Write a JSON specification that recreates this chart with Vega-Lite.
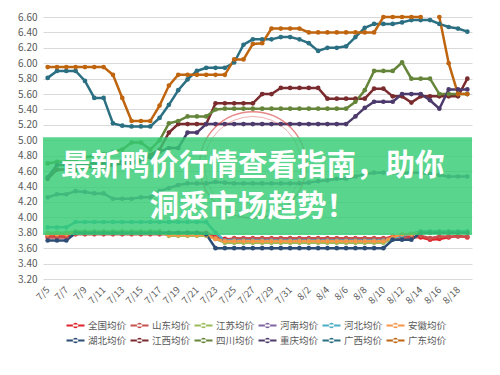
{
  "$schema": "https://vega.github.io/schema/vega-lite/v6.json",
  "width": 429,
  "height": 262,
  "autosize": {"type": "none"},
  "padding": {"left": 43, "top": 17, "right": 28, "bottom": 96},
  "background": "white",
  "config": {"view": {"stroke": null}, "font": "Noto Sans CJK SC"},
  "datasets": {
    "prices": [
      {"date":"7/5","region":"全国均价","price":3.76},{"date":"7/6","region":"全国均价","price":3.76},{"date":"7/7","region":"全国均价","price":3.76},{"date":"7/8","region":"全国均价","price":3.80},{"date":"7/9","region":"全国均价","price":3.80},{"date":"7/10","region":"全国均价","price":3.80},{"date":"7/11","region":"全国均价","price":3.80},{"date":"7/12","region":"全国均价","price":3.80},{"date":"7/13","region":"全国均价","price":3.80},{"date":"7/14","region":"全国均价","price":3.80},{"date":"7/15","region":"全国均价","price":3.80},{"date":"7/16","region":"全国均价","price":3.80},{"date":"7/17","region":"全国均价","price":3.80},{"date":"7/18","region":"全国均价","price":3.80},{"date":"7/19","region":"全国均价","price":3.80},{"date":"7/20","region":"全国均价","price":3.80},{"date":"7/21","region":"全国均价","price":3.80},{"date":"7/22","region":"全国均价","price":3.80},{"date":"7/23","region":"全国均价","price":3.74},{"date":"7/24","region":"全国均价","price":3.72},{"date":"7/25","region":"全国均价","price":3.72},{"date":"7/26","region":"全国均价","price":3.72},{"date":"7/27","region":"全国均价","price":3.72},{"date":"7/28","region":"全国均价","price":3.72},{"date":"7/29","region":"全国均价","price":3.72},{"date":"7/30","region":"全国均价","price":3.72},{"date":"7/31","region":"全国均价","price":3.72},{"date":"8/1","region":"全国均价","price":3.72},{"date":"8/2","region":"全国均价","price":3.72},{"date":"8/3","region":"全国均价","price":3.72},{"date":"8/4","region":"全国均价","price":3.72},{"date":"8/5","region":"全国均价","price":3.72},{"date":"8/6","region":"全国均价","price":3.72},{"date":"8/7","region":"全国均价","price":3.72},{"date":"8/8","region":"全国均价","price":3.72},{"date":"8/9","region":"全国均价","price":3.72},{"date":"8/10","region":"全国均价","price":3.72},{"date":"8/11","region":"全国均价","price":3.75},{"date":"8/12","region":"全国均价","price":3.75},{"date":"8/13","region":"全国均价","price":3.75},{"date":"8/14","region":"全国均价","price":3.74},{"date":"8/15","region":"全国均价","price":3.71},{"date":"8/16","region":"全国均价","price":3.72},{"date":"8/17","region":"全国均价","price":3.74},{"date":"8/18","region":"全国均价","price":3.76},{"date":"8/19","region":"全国均价","price":3.74},
      {"date":"7/5","region":"山东均价","price":3.74},{"date":"7/6","region":"山东均价","price":3.74},{"date":"7/7","region":"山东均价","price":3.74},{"date":"7/8","region":"山东均价","price":3.78},{"date":"7/9","region":"山东均价","price":3.78},{"date":"7/10","region":"山东均价","price":3.78},{"date":"7/11","region":"山东均价","price":3.78},{"date":"7/12","region":"山东均价","price":3.78},{"date":"7/13","region":"山东均价","price":3.78},{"date":"7/14","region":"山东均价","price":3.78},{"date":"7/15","region":"山东均价","price":3.78},{"date":"7/16","region":"山东均价","price":3.78},{"date":"7/17","region":"山东均价","price":3.78},{"date":"7/18","region":"山东均价","price":3.78},{"date":"7/19","region":"山东均价","price":3.78},{"date":"7/20","region":"山东均价","price":3.78},{"date":"7/21","region":"山东均价","price":3.78},{"date":"7/22","region":"山东均价","price":3.78},{"date":"7/23","region":"山东均价","price":3.73},{"date":"7/24","region":"山东均价","price":3.70},{"date":"7/25","region":"山东均价","price":3.73},{"date":"7/26","region":"山东均价","price":3.73},{"date":"7/27","region":"山东均价","price":3.73},{"date":"7/28","region":"山东均价","price":3.73},{"date":"7/29","region":"山东均价","price":3.73},{"date":"7/30","region":"山东均价","price":3.73},{"date":"7/31","region":"山东均价","price":3.73},{"date":"8/1","region":"山东均价","price":3.73},{"date":"8/2","region":"山东均价","price":3.73},{"date":"8/3","region":"山东均价","price":3.73},{"date":"8/4","region":"山东均价","price":3.73},{"date":"8/5","region":"山东均价","price":3.73},{"date":"8/6","region":"山东均价","price":3.73},{"date":"8/7","region":"山东均价","price":3.73},{"date":"8/8","region":"山东均价","price":3.73},{"date":"8/9","region":"山东均价","price":3.73},{"date":"8/10","region":"山东均价","price":3.73},{"date":"8/11","region":"山东均价","price":3.73},{"date":"8/12","region":"山东均价","price":3.73},{"date":"8/13","region":"山东均价","price":3.73},{"date":"8/14","region":"山东均价","price":3.76},{"date":"8/15","region":"山东均价","price":3.73},{"date":"8/16","region":"山东均价","price":3.75},{"date":"8/17","region":"山东均价","price":3.75},{"date":"8/18","region":"山东均价","price":3.75},{"date":"8/19","region":"山东均价","price":3.75},
      {"date":"7/5","region":"江苏均价","price":3.80},{"date":"7/6","region":"江苏均价","price":3.80},{"date":"7/7","region":"江苏均价","price":3.80},{"date":"7/8","region":"江苏均价","price":3.82},{"date":"7/9","region":"江苏均价","price":3.82},{"date":"7/10","region":"江苏均价","price":3.82},{"date":"7/11","region":"江苏均价","price":3.82},{"date":"7/12","region":"江苏均价","price":3.82},{"date":"7/13","region":"江苏均价","price":3.82},{"date":"7/14","region":"江苏均价","price":3.82},{"date":"7/15","region":"江苏均价","price":3.82},{"date":"7/16","region":"江苏均价","price":3.82},{"date":"7/17","region":"江苏均价","price":3.82},{"date":"7/18","region":"江苏均价","price":3.76},{"date":"7/19","region":"江苏均价","price":3.76},{"date":"7/20","region":"江苏均价","price":3.76},{"date":"7/21","region":"江苏均价","price":3.76},{"date":"7/22","region":"江苏均价","price":3.76},{"date":"7/23","region":"江苏均价","price":3.72},{"date":"7/24","region":"江苏均价","price":3.67},{"date":"7/25","region":"江苏均价","price":3.67},{"date":"7/26","region":"江苏均价","price":3.67},{"date":"7/27","region":"江苏均价","price":3.67},{"date":"7/28","region":"江苏均价","price":3.67},{"date":"7/29","region":"江苏均价","price":3.67},{"date":"7/30","region":"江苏均价","price":3.67},{"date":"7/31","region":"江苏均价","price":3.67},{"date":"8/1","region":"江苏均价","price":3.67},{"date":"8/2","region":"江苏均价","price":3.67},{"date":"8/3","region":"江苏均价","price":3.67},{"date":"8/4","region":"江苏均价","price":3.67},{"date":"8/5","region":"江苏均价","price":3.67},{"date":"8/6","region":"江苏均价","price":3.67},{"date":"8/7","region":"江苏均价","price":3.67},{"date":"8/8","region":"江苏均价","price":3.67},{"date":"8/9","region":"江苏均价","price":3.67},{"date":"8/10","region":"江苏均价","price":3.67},{"date":"8/11","region":"江苏均价","price":3.72},{"date":"8/12","region":"江苏均价","price":3.77},{"date":"8/13","region":"江苏均价","price":3.79},{"date":"8/14","region":"江苏均价","price":3.81},{"date":"8/15","region":"江苏均价","price":3.81},{"date":"8/16","region":"江苏均价","price":3.81},{"date":"8/17","region":"江苏均价","price":3.81},{"date":"8/18","region":"江苏均价","price":3.81},{"date":"8/19","region":"江苏均价","price":3.81},
      {"date":"7/5","region":"河南均价","price":4.26},{"date":"7/6","region":"河南均价","price":4.30},{"date":"7/7","region":"河南均价","price":4.30},{"date":"7/8","region":"河南均价","price":4.34},{"date":"7/9","region":"河南均价","price":4.33},{"date":"7/10","region":"河南均价","price":4.31},{"date":"7/11","region":"河南均价","price":4.31},{"date":"7/12","region":"河南均价","price":4.24},{"date":"7/13","region":"河南均价","price":4.24},{"date":"7/14","region":"河南均价","price":4.24},{"date":"7/15","region":"河南均价","price":4.26},{"date":"7/16","region":"河南均价","price":4.26},{"date":"7/17","region":"河南均价","price":4.34},{"date":"7/18","region":"河南均价","price":4.38},{"date":"7/19","region":"河南均价","price":4.42},{"date":"7/20","region":"河南均价","price":4.44},{"date":"7/21","region":"河南均价","price":4.44},{"date":"7/22","region":"河南均价","price":4.44},{"date":"7/23","region":"河南均价","price":4.46},{"date":"7/24","region":"河南均价","price":4.45},{"date":"7/25","region":"河南均价","price":4.44},{"date":"7/26","region":"河南均价","price":4.44},{"date":"7/27","region":"河南均价","price":4.44},{"date":"7/28","region":"河南均价","price":4.44},{"date":"7/29","region":"河南均价","price":4.44},{"date":"7/30","region":"河南均价","price":4.44},{"date":"7/31","region":"河南均价","price":4.44},{"date":"8/1","region":"河南均价","price":4.44},{"date":"8/2","region":"河南均价","price":4.45},{"date":"8/3","region":"河南均价","price":4.47},{"date":"8/4","region":"河南均价","price":4.48},{"date":"8/5","region":"河南均价","price":4.50},{"date":"8/6","region":"河南均价","price":4.50},{"date":"8/7","region":"河南均价","price":4.53},{"date":"8/8","region":"河南均价","price":4.56},{"date":"8/9","region":"河南均价","price":4.58},{"date":"8/10","region":"河南均价","price":4.58},{"date":"8/11","region":"河南均价","price":4.58},{"date":"8/12","region":"河南均价","price":4.58},{"date":"8/13","region":"河南均价","price":4.58},{"date":"8/14","region":"河南均价","price":4.58},{"date":"8/15","region":"河南均价","price":4.56},{"date":"8/16","region":"河南均价","price":4.55},{"date":"8/17","region":"河南均价","price":4.53},{"date":"8/18","region":"河南均价","price":4.53},{"date":"8/19","region":"河南均价","price":4.53},
      {"date":"7/5","region":"河北均价","price":3.87},{"date":"7/6","region":"河北均价","price":3.87},{"date":"7/7","region":"河北均价","price":3.87},{"date":"7/8","region":"河北均价","price":3.94},{"date":"7/9","region":"河北均价","price":3.94},{"date":"7/10","region":"河北均价","price":3.94},{"date":"7/11","region":"河北均价","price":3.94},{"date":"7/12","region":"河北均价","price":3.94},{"date":"7/13","region":"河北均价","price":3.94},{"date":"7/14","region":"河北均价","price":3.94},{"date":"7/15","region":"河北均价","price":3.94},{"date":"7/16","region":"河北均价","price":3.94},{"date":"7/17","region":"河北均价","price":3.94},{"date":"7/18","region":"河北均价","price":3.94},{"date":"7/19","region":"河北均价","price":3.94},{"date":"7/20","region":"河北均价","price":3.94},{"date":"7/21","region":"河北均价","price":3.94},{"date":"7/22","region":"河北均价","price":3.94},{"date":"7/23","region":"河北均价","price":3.80},{"date":"7/24","region":"河北均价","price":3.70},{"date":"7/25","region":"河北均价","price":3.70},{"date":"7/26","region":"河北均价","price":3.70},{"date":"7/27","region":"河北均价","price":3.70},{"date":"7/28","region":"河北均价","price":3.70},{"date":"7/29","region":"河北均价","price":3.70},{"date":"7/30","region":"河北均价","price":3.70},{"date":"7/31","region":"河北均价","price":3.70},{"date":"8/1","region":"河北均价","price":3.70},{"date":"8/2","region":"河北均价","price":3.70},{"date":"8/3","region":"河北均价","price":3.70},{"date":"8/4","region":"河北均价","price":3.70},{"date":"8/5","region":"河北均价","price":3.70},{"date":"8/6","region":"河北均价","price":3.70},{"date":"8/7","region":"河北均价","price":3.70},{"date":"8/8","region":"河北均价","price":3.70},{"date":"8/9","region":"河北均价","price":3.70},{"date":"8/10","region":"河北均价","price":3.70},{"date":"8/11","region":"河北均价","price":3.73},{"date":"8/12","region":"河北均价","price":3.76},{"date":"8/13","region":"河北均价","price":3.78},{"date":"8/14","region":"河北均价","price":3.82},{"date":"8/15","region":"河北均价","price":3.82},{"date":"8/16","region":"河北均价","price":3.82},{"date":"8/17","region":"河北均价","price":3.82},{"date":"8/18","region":"河北均价","price":3.82},{"date":"8/19","region":"河北均价","price":3.82},
      {"date":"7/5","region":"安徽均价","price":3.78},{"date":"7/6","region":"安徽均价","price":3.78},{"date":"7/7","region":"安徽均价","price":3.78},{"date":"7/8","region":"安徽均价","price":3.80},{"date":"7/9","region":"安徽均价","price":3.80},{"date":"7/10","region":"安徽均价","price":3.80},{"date":"7/11","region":"安徽均价","price":3.80},{"date":"7/12","region":"安徽均价","price":3.80},{"date":"7/13","region":"安徽均价","price":3.80},{"date":"7/14","region":"安徽均价","price":3.80},{"date":"7/15","region":"安徽均价","price":3.80},{"date":"7/16","region":"安徽均价","price":3.80},{"date":"7/17","region":"安徽均价","price":3.80},{"date":"7/18","region":"安徽均价","price":3.77},{"date":"7/19","region":"安徽均价","price":3.77},{"date":"7/20","region":"安徽均价","price":3.77},{"date":"7/21","region":"安徽均价","price":3.77},{"date":"7/22","region":"安徽均价","price":3.77},{"date":"7/23","region":"安徽均价","price":3.72},{"date":"7/24","region":"安徽均价","price":3.69},{"date":"7/25","region":"安徽均价","price":3.69},{"date":"7/26","region":"安徽均价","price":3.69},{"date":"7/27","region":"安徽均价","price":3.69},{"date":"7/28","region":"安徽均价","price":3.69},{"date":"7/29","region":"安徽均价","price":3.69},{"date":"7/30","region":"安徽均价","price":3.69},{"date":"7/31","region":"安徽均价","price":3.69},{"date":"8/1","region":"安徽均价","price":3.69},{"date":"8/2","region":"安徽均价","price":3.69},{"date":"8/3","region":"安徽均价","price":3.69},{"date":"8/4","region":"安徽均价","price":3.69},{"date":"8/5","region":"安徽均价","price":3.69},{"date":"8/6","region":"安徽均价","price":3.69},{"date":"8/7","region":"安徽均价","price":3.69},{"date":"8/8","region":"安徽均价","price":3.69},{"date":"8/9","region":"安徽均价","price":3.69},{"date":"8/10","region":"安徽均价","price":3.69},{"date":"8/11","region":"安徽均价","price":3.74},{"date":"8/12","region":"安徽均价","price":3.78},{"date":"8/13","region":"安徽均价","price":3.78},{"date":"8/14","region":"安徽均价","price":3.80},{"date":"8/15","region":"安徽均价","price":3.80},{"date":"8/16","region":"安徽均价","price":3.80},{"date":"8/17","region":"安徽均价","price":3.80},{"date":"8/18","region":"安徽均价","price":3.80},{"date":"8/19","region":"安徽均价","price":3.80},
      {"date":"7/5","region":"湖北均价","price":3.70},{"date":"7/6","region":"湖北均价","price":3.70},{"date":"7/7","region":"湖北均价","price":3.70},{"date":"7/8","region":"湖北均价","price":3.80},{"date":"7/9","region":"湖北均价","price":3.80},{"date":"7/10","region":"湖北均价","price":3.80},{"date":"7/11","region":"湖北均价","price":3.80},{"date":"7/12","region":"湖北均价","price":3.80},{"date":"7/13","region":"湖北均价","price":3.80},{"date":"7/14","region":"湖北均价","price":3.80},{"date":"7/15","region":"湖北均价","price":3.80},{"date":"7/16","region":"湖北均价","price":3.80},{"date":"7/17","region":"湖北均价","price":3.80},{"date":"7/18","region":"湖北均价","price":3.80},{"date":"7/19","region":"湖北均价","price":3.80},{"date":"7/20","region":"湖北均价","price":3.80},{"date":"7/21","region":"湖北均价","price":3.80},{"date":"7/22","region":"湖北均价","price":3.78},{"date":"7/23","region":"湖北均价","price":3.60},{"date":"7/24","region":"湖北均价","price":3.60},{"date":"7/25","region":"湖北均价","price":3.60},{"date":"7/26","region":"湖北均价","price":3.60},{"date":"7/27","region":"湖北均价","price":3.60},{"date":"7/28","region":"湖北均价","price":3.60},{"date":"7/29","region":"湖北均价","price":3.60},{"date":"7/30","region":"湖北均价","price":3.60},{"date":"7/31","region":"湖北均价","price":3.60},{"date":"8/1","region":"湖北均价","price":3.60},{"date":"8/2","region":"湖北均价","price":3.60},{"date":"8/3","region":"湖北均价","price":3.60},{"date":"8/4","region":"湖北均价","price":3.60},{"date":"8/5","region":"湖北均价","price":3.60},{"date":"8/6","region":"湖北均价","price":3.60},{"date":"8/7","region":"湖北均价","price":3.60},{"date":"8/8","region":"湖北均价","price":3.60},{"date":"8/9","region":"湖北均价","price":3.60},{"date":"8/10","region":"湖北均价","price":3.60},{"date":"8/11","region":"湖北均价","price":3.71},{"date":"8/12","region":"湖北均价","price":3.71},{"date":"8/13","region":"湖北均价","price":3.71},{"date":"8/14","region":"湖北均价","price":3.80},{"date":"8/15","region":"湖北均价","price":3.80},{"date":"8/16","region":"湖北均价","price":3.80},{"date":"8/17","region":"湖北均价","price":3.80},{"date":"8/18","region":"湖北均价","price":3.80},{"date":"8/19","region":"湖北均价","price":3.80},
      {"date":"7/5","region":"江西均价","price":4.50},{"date":"7/6","region":"江西均价","price":4.62},{"date":"7/7","region":"江西均价","price":4.62},{"date":"7/8","region":"江西均价","price":4.62},{"date":"7/9","region":"江西均价","price":4.65},{"date":"7/10","region":"江西均价","price":4.65},{"date":"7/11","region":"江西均价","price":4.65},{"date":"7/12","region":"江西均价","price":4.68},{"date":"7/13","region":"江西均价","price":4.70},{"date":"7/14","region":"江西均价","price":4.70},{"date":"7/15","region":"江西均价","price":4.73},{"date":"7/16","region":"江西均价","price":4.81},{"date":"7/17","region":"江西均价","price":4.88},{"date":"7/18","region":"江西均价","price":5.10},{"date":"7/19","region":"江西均价","price":5.21},{"date":"7/20","region":"江西均价","price":5.21},{"date":"7/21","region":"江西均价","price":5.21},{"date":"7/22","region":"江西均价","price":5.21},{"date":"7/23","region":"江西均价","price":5.48},{"date":"7/24","region":"江西均价","price":5.48},{"date":"7/25","region":"江西均价","price":5.48},{"date":"7/26","region":"江西均价","price":5.48},{"date":"7/27","region":"江西均价","price":5.48},{"date":"7/28","region":"江西均价","price":5.60},{"date":"7/29","region":"江西均价","price":5.60},{"date":"7/30","region":"江西均价","price":5.68},{"date":"7/31","region":"江西均价","price":5.68},{"date":"8/1","region":"江西均价","price":5.68},{"date":"8/2","region":"江西均价","price":5.68},{"date":"8/3","region":"江西均价","price":5.68},{"date":"8/4","region":"江西均价","price":5.54},{"date":"8/5","region":"江西均价","price":5.54},{"date":"8/6","region":"江西均价","price":5.54},{"date":"8/7","region":"江西均价","price":5.54},{"date":"8/8","region":"江西均价","price":5.54},{"date":"8/9","region":"江西均价","price":5.67},{"date":"8/10","region":"江西均价","price":5.67},{"date":"8/11","region":"江西均价","price":5.57},{"date":"8/12","region":"江西均价","price":5.57},{"date":"8/13","region":"江西均价","price":5.49},{"date":"8/14","region":"江西均价","price":5.57},{"date":"8/15","region":"江西均价","price":5.57},{"date":"8/16","region":"江西均价","price":5.57},{"date":"8/17","region":"江西均价","price":5.57},{"date":"8/18","region":"江西均价","price":5.57},{"date":"8/19","region":"江西均价","price":5.80},
      {"date":"7/5","region":"四川均价","price":4.70},{"date":"7/6","region":"四川均价","price":4.72},{"date":"7/7","region":"四川均价","price":4.72},{"date":"7/8","region":"四川均价","price":4.75},{"date":"7/9","region":"四川均价","price":4.78},{"date":"7/10","region":"四川均价","price":4.80},{"date":"7/11","region":"四川均价","price":4.82},{"date":"7/12","region":"四川均价","price":4.85},{"date":"7/13","region":"四川均价","price":4.88},{"date":"7/14","region":"四川均价","price":4.97},{"date":"7/15","region":"四川均价","price":4.97},{"date":"7/16","region":"四川均价","price":4.88},{"date":"7/17","region":"四川均价","price":5.00},{"date":"7/18","region":"四川均价","price":5.22},{"date":"7/19","region":"四川均价","price":5.25},{"date":"7/20","region":"四川均价","price":5.31},{"date":"7/21","region":"四川均价","price":5.31},{"date":"7/22","region":"四川均价","price":5.31},{"date":"7/23","region":"四川均价","price":5.40},{"date":"7/24","region":"四川均价","price":5.41},{"date":"7/25","region":"四川均价","price":5.41},{"date":"7/26","region":"四川均价","price":5.41},{"date":"7/27","region":"四川均价","price":5.41},{"date":"7/28","region":"四川均价","price":5.41},{"date":"7/29","region":"四川均价","price":5.41},{"date":"7/30","region":"四川均价","price":5.41},{"date":"7/31","region":"四川均价","price":5.41},{"date":"8/1","region":"四川均价","price":5.41},{"date":"8/2","region":"四川均价","price":5.41},{"date":"8/3","region":"四川均价","price":5.41},{"date":"8/4","region":"四川均价","price":5.41},{"date":"8/5","region":"四川均价","price":5.41},{"date":"8/6","region":"四川均价","price":5.41},{"date":"8/7","region":"四川均价","price":5.50},{"date":"8/8","region":"四川均价","price":5.65},{"date":"8/9","region":"四川均价","price":5.90},{"date":"8/10","region":"四川均价","price":5.90},{"date":"8/11","region":"四川均价","price":5.90},{"date":"8/12","region":"四川均价","price":6.01},{"date":"8/13","region":"四川均价","price":5.80},{"date":"8/14","region":"四川均价","price":5.80},{"date":"8/15","region":"四川均价","price":5.80},{"date":"8/16","region":"四川均价","price":5.60},{"date":"8/17","region":"四川均价","price":5.60},{"date":"8/18","region":"四川均价","price":5.60},{"date":"8/19","region":"四川均价","price":5.60},
      {"date":"7/5","region":"重庆均价","price":4.52},{"date":"7/6","region":"重庆均价","price":4.68},{"date":"7/7","region":"重庆均价","price":4.68},{"date":"7/8","region":"重庆均价","price":4.68},{"date":"7/9","region":"重庆均价","price":4.70},{"date":"7/10","region":"重庆均价","price":4.70},{"date":"7/11","region":"重庆均价","price":4.70},{"date":"7/12","region":"重庆均价","price":4.70},{"date":"7/13","region":"重庆均价","price":4.72},{"date":"7/14","region":"重庆均价","price":4.72},{"date":"7/15","region":"重庆均价","price":4.75},{"date":"7/16","region":"重庆均价","price":4.78},{"date":"7/17","region":"重庆均价","price":4.85},{"date":"7/18","region":"重庆均价","price":4.90},{"date":"7/19","region":"重庆均价","price":4.90},{"date":"7/20","region":"重庆均价","price":5.10},{"date":"7/21","region":"重庆均价","price":5.10},{"date":"7/22","region":"重庆均价","price":5.21},{"date":"7/23","region":"重庆均价","price":5.21},{"date":"7/24","region":"重庆均价","price":5.21},{"date":"7/25","region":"重庆均价","price":5.21},{"date":"7/26","region":"重庆均价","price":5.21},{"date":"7/27","region":"重庆均价","price":5.21},{"date":"7/28","region":"重庆均价","price":5.21},{"date":"7/29","region":"重庆均价","price":5.21},{"date":"7/30","region":"重庆均价","price":5.21},{"date":"7/31","region":"重庆均价","price":5.21},{"date":"8/1","region":"重庆均价","price":5.21},{"date":"8/2","region":"重庆均价","price":5.21},{"date":"8/3","region":"重庆均价","price":5.21},{"date":"8/4","region":"重庆均价","price":5.21},{"date":"8/5","region":"重庆均价","price":5.21},{"date":"8/6","region":"重庆均价","price":5.21},{"date":"8/7","region":"重庆均价","price":5.31},{"date":"8/8","region":"重庆均价","price":5.42},{"date":"8/9","region":"重庆均价","price":5.50},{"date":"8/10","region":"重庆均价","price":5.50},{"date":"8/11","region":"重庆均价","price":5.50},{"date":"8/12","region":"重庆均价","price":5.60},{"date":"8/13","region":"重庆均价","price":5.60},{"date":"8/14","region":"重庆均价","price":5.60},{"date":"8/15","region":"重庆均价","price":5.52},{"date":"8/16","region":"重庆均价","price":5.41},{"date":"8/17","region":"重庆均价","price":5.66},{"date":"8/18","region":"重庆均价","price":5.66},{"date":"8/19","region":"重庆均价","price":5.66},
      {"date":"7/5","region":"广西均价","price":5.81},{"date":"7/6","region":"广西均价","price":5.90},{"date":"7/7","region":"广西均价","price":5.90},{"date":"7/8","region":"广西均价","price":5.90},{"date":"7/9","region":"广西均价","price":5.77},{"date":"7/10","region":"广西均价","price":5.55},{"date":"7/11","region":"广西均价","price":5.55},{"date":"7/12","region":"广西均价","price":5.22},{"date":"7/13","region":"广西均价","price":5.19},{"date":"7/14","region":"广西均价","price":5.18},{"date":"7/15","region":"广西均价","price":5.18},{"date":"7/16","region":"广西均价","price":5.18},{"date":"7/17","region":"广西均价","price":5.29},{"date":"7/18","region":"广西均价","price":5.46},{"date":"7/19","region":"广西均价","price":5.65},{"date":"7/20","region":"广西均价","price":5.79},{"date":"7/21","region":"广西均价","price":5.90},{"date":"7/22","region":"广西均价","price":5.94},{"date":"7/23","region":"广西均价","price":5.94},{"date":"7/24","region":"广西均价","price":5.94},{"date":"7/25","region":"广西均价","price":6.01},{"date":"7/26","region":"广西均价","price":6.24},{"date":"7/27","region":"广西均价","price":6.31},{"date":"7/28","region":"广西均价","price":6.31},{"date":"7/29","region":"广西均价","price":6.31},{"date":"7/30","region":"广西均价","price":6.34},{"date":"7/31","region":"广西均价","price":6.34},{"date":"8/1","region":"广西均价","price":6.31},{"date":"8/2","region":"广西均价","price":6.26},{"date":"8/3","region":"广西均价","price":6.16},{"date":"8/4","region":"广西均价","price":6.20},{"date":"8/5","region":"广西均价","price":6.20},{"date":"8/6","region":"广西均价","price":6.22},{"date":"8/7","region":"广西均价","price":6.34},{"date":"8/8","region":"广西均价","price":6.46},{"date":"8/9","region":"广西均价","price":6.51},{"date":"8/10","region":"广西均价","price":6.51},{"date":"8/11","region":"广西均价","price":6.51},{"date":"8/12","region":"广西均价","price":6.53},{"date":"8/13","region":"广西均价","price":6.56},{"date":"8/14","region":"广西均价","price":6.56},{"date":"8/15","region":"广西均价","price":6.56},{"date":"8/16","region":"广西均价","price":6.51},{"date":"8/17","region":"广西均价","price":6.47},{"date":"8/18","region":"广西均价","price":6.45},{"date":"8/19","region":"广西均价","price":6.41},
      {"date":"7/5","region":"广东均价","price":5.95},{"date":"7/6","region":"广东均价","price":5.95},{"date":"7/7","region":"广东均价","price":5.95},{"date":"7/8","region":"广东均价","price":5.95},{"date":"7/9","region":"广东均价","price":5.95},{"date":"7/10","region":"广东均价","price":5.95},{"date":"7/11","region":"广东均价","price":5.95},{"date":"7/12","region":"广东均价","price":5.85},{"date":"7/13","region":"广东均价","price":5.55},{"date":"7/14","region":"广东均价","price":5.25},{"date":"7/15","region":"广东均价","price":5.25},{"date":"7/16","region":"广东均价","price":5.25},{"date":"7/17","region":"广东均价","price":5.45},{"date":"7/18","region":"广东均价","price":5.71},{"date":"7/19","region":"广东均价","price":5.85},{"date":"7/20","region":"广东均价","price":5.85},{"date":"7/21","region":"广东均价","price":5.85},{"date":"7/22","region":"广东均价","price":5.85},{"date":"7/23","region":"广东均价","price":5.85},{"date":"7/24","region":"广东均价","price":5.85},{"date":"7/25","region":"广东均价","price":6.05},{"date":"7/26","region":"广东均价","price":6.05},{"date":"7/27","region":"广东均价","price":6.25},{"date":"7/28","region":"广东均价","price":6.26},{"date":"7/29","region":"广东均价","price":6.45},{"date":"7/30","region":"广东均价","price":6.45},{"date":"7/31","region":"广东均价","price":6.45},{"date":"8/1","region":"广东均价","price":6.45},{"date":"8/2","region":"广东均价","price":6.40},{"date":"8/3","region":"广东均价","price":6.40},{"date":"8/4","region":"广东均价","price":6.40},{"date":"8/5","region":"广东均价","price":6.40},{"date":"8/6","region":"广东均价","price":6.40},{"date":"8/7","region":"广东均价","price":6.40},{"date":"8/8","region":"广东均价","price":6.40},{"date":"8/9","region":"广东均价","price":6.40},{"date":"8/10","region":"广东均价","price":6.60},{"date":"8/11","region":"广东均价","price":6.60},{"date":"8/12","region":"广东均价","price":6.60},{"date":"8/13","region":"广东均价","price":6.60},{"date":"8/14","region":"广东均价","price":6.60},{"date":"8/15","region":"广东均价","price":null},{"date":"8/16","region":"广东均价","price":6.60},{"date":"8/17","region":"广东均价","price":6.00},{"date":"8/18","region":"广东均价","price":5.60},{"date":"8/19","region":"广东均价","price":5.60}
    ]
  },
  "layer": [
    {
      "data": {"name": "prices"},
      "mark": {"type": "line", "strokeWidth": 2.5, "invalid": "break-paths-show-domains", "point": {"filled": true, "size": 22}},
      "encoding": {
        "x": {
          "field": "date", "type": "ordinal",
          "scale": {"type": "point", "padding": 0.5, "domain": ["7/5","7/6","7/7","7/8","7/9","7/10","7/11","7/12","7/13","7/14","7/15","7/16","7/17","7/18","7/19","7/20","7/21","7/22","7/23","7/24","7/25","7/26","7/27","7/28","7/29","7/30","7/31","8/1","8/2","8/3","8/4","8/5","8/6","8/7","8/8","8/9","8/10","8/11","8/12","8/13","8/14","8/15","8/16","8/17","8/18","8/19"]},
          "axis": {"title": null, "values": ["7/5","7/7","7/9","7/11","7/13","7/15","7/17","7/19","7/21","7/23","7/25","7/27","7/29","7/31","8/2","8/4","8/6","8/8","8/10","8/12","8/14","8/16","8/18"], "labelAngle": -45, "labelAlign": "right", "labelBaseline": "middle", "labelPadding": 9, "labelFontSize": 9.5, "labelColor": "#595959", "labelOverlap": false, "domain": false, "ticks": false, "grid": false, "labelFont": "Noto Sans CJK SC"}
        },
        "y": {
          "field": "price", "type": "quantitative",
          "scale": {"domain": [3.2, 6.6], "nice": false, "zero": false},
          "axis": {"title": null, "values": [3.2,3.4,3.6,3.8,4.0,4.2,4.4,4.6,4.8,5.0,5.2,5.4,5.6,5.8,6.0,6.2,6.4,6.6], "tickCount": 40, "format": ".2f", "grid": true, "gridColor": "#d9d9d9", "gridWidth": 1, "domain": false, "ticks": false, "labelOverlap": false, "labelFlush": false, "labelPadding": 6, "labelFontSize": 10, "labelColor": "#595959", "labelFont": "Noto Sans CJK SC"}
        },
        "color": {
          "field": "region", "type": "nominal",
          "scale": {
            "domain": ["全国均价","山东均价","江苏均价","河南均价","河北均价","安徽均价","湖北均价","江西均价","四川均价","重庆均价","广西均价","广东均价"],
            "range": ["#E0242B","#C8504D","#9BBB59","#8064A2","#4BACC6","#F79646","#2C4D75","#7A2B2E","#65853A","#4C3A6C","#2B6F82","#C0650F"]
          },
          "legend": {
            "title": null, "orient": "none", "legendX": 25, "legendY": 301, "direction": "horizontal", "columns": 6,
            "symbolType": "M-1.2,-0.14H1.2V0.14H-1.2ZM-0.36,0A0.36,0.36,0,1,0,0.36,0A0.36,0.36,0,1,0,-0.36,0Z",
            "symbolSize": 225, "symbolStrokeWidth": 0, "labelFontSize": 9.5, "labelColor": "#595959", "labelFont": "Noto Sans CJK SC",
            "labelOffset": 5, "columnPadding": 3, "rowPadding": 3,
            "encode": {"symbols": {"update": {"fill": {"scale": "color", "field": "value"}, "strokeWidth": {"value": 0}, "opacity": {"value": 1}}}}
          }
        }
      }
    },
    {
      "data": {"values": [{"date": "7/27", "price": 4.68}]},
      "mark": {"type": "point", "shape": "circle", "filled": false, "size": 11300, "stroke": "#d83a3a", "strokeWidth": 1.4, "opacity": 0.6},
      "encoding": {"x": {"field": "date", "type": "ordinal"}, "y": {"field": "price", "type": "quantitative"}}
    },
    {
      "data": {"values": [{"date": "7/27", "price": 4.68}]},
      "mark": {"type": "point", "shape": "circle", "filled": false, "size": 9400, "stroke": "#d83a3a", "strokeWidth": 0.8, "opacity": 0.5},
      "encoding": {"x": {"field": "date", "type": "ordinal"}, "y": {"field": "price", "type": "quantitative"}}
    },
    {
      "data": {"values": [{"price": 5.04, "price_end": 3.77}]},
      "mark": {"type": "rect", "color": "#35cc74", "opacity": 0.82},
      "encoding": {"y": {"field": "price", "type": "quantitative"}, "y2": {"field": "price_end"}}
    },
    {
      "data": {"values": [{"date": "7/27", "price": 4.67, "label": "最新鸭价行情查看指南，助你"}, {"date": "7/27", "price": 4.13, "label": "洞悉市场趋势！"}]},
      "mark": {"type": "text", "font": "Noto Sans CJK SC", "fontSize": 29.5, "fontWeight": "bold", "color": "white", "align": "center", "baseline": "middle"},
      "encoding": {"x": {"field": "date", "type": "ordinal"}, "y": {"field": "price", "type": "quantitative"}, "text": {"field": "label"}}
    }
  ]
}
